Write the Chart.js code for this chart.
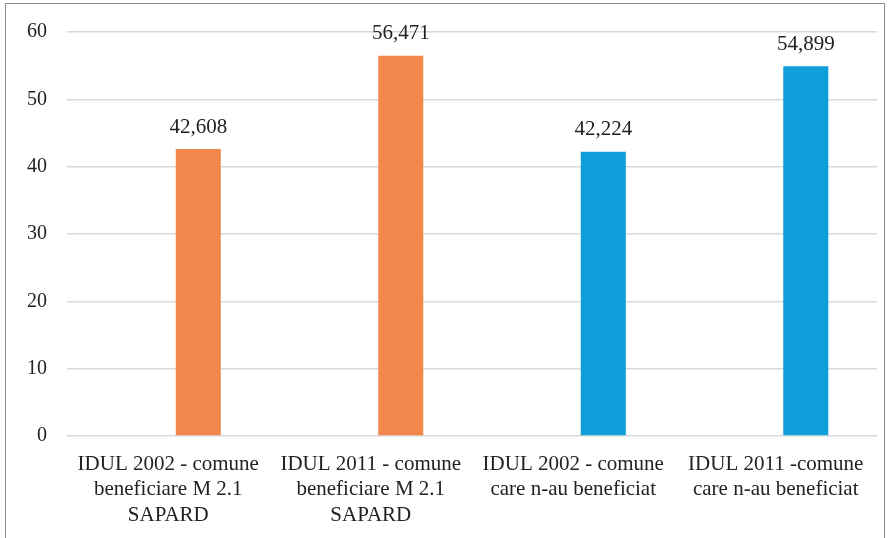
<!DOCTYPE html>
<html>
<head>
<meta charset="utf-8">
<script src="https://cdn.jsdelivr.net/npm/chart.js@4/dist/chart.umd.min.js"></script>
<style>
  html, body { margin: 0; padding: 0; background: #fff; }
  #wrap { width: 889px; height: 538px; position: relative; }
</style>
</head>
<body>
<div id="wrap"><canvas id="chart"></canvas></div>
<script>
const categories = [
  ["IDUL 2002 - comune", "beneficiare M 2.1", "SAPARD"],
  ["IDUL 2011 - comune", "beneficiare M 2.1", "SAPARD"],
  ["IDUL 2002 - comune", "care n-au beneficiat"],
  ["IDUL 2011 -comune", "care n-au beneficiat"]
];
const idulValues = [42.608, 56.471, 42.224, 54.899];
const barColors = ["#F4874B", "#F4874B", "#0E9EDA", "#0E9EDA"];
const emptySlot = [null, null, null, null];
const yTicks = [0, 10, 20, 30, 40, 50, 60];

const font = "'Times New Roman', 'Liberation Serif', 'DejaVu Serif', serif";
Chart.defaults.font.family = font;

// Draw the outer frame like the original figure
const framePlugin = {
  id: "frame",
  beforeDraw(chart) {
    const ctx = chart.ctx;
    ctx.save();
    ctx.fillStyle = "#fff";
    ctx.fillRect(0, 0, chart.width, chart.height);
    ctx.strokeStyle = "#8c8c8c";
    ctx.lineWidth = 1;
    ctx.strokeRect(5.5, 3.5, 879, 560);
    ctx.restore();
  }
};

// Values above the bars, comma as decimal separator
const valueLabels = {
  id: "valueLabels",
  afterDatasetsDraw(chart) {
    const ctx = chart.ctx;
    ctx.save();
    ctx.font = "21px " + font;
    ctx.fillStyle = "#222";
    ctx.textAlign = "center";
    ctx.textBaseline = "middle";
    chart.data.datasets.forEach((ds, i) => {
      chart.getDatasetMeta(i).data.forEach((bar, j) => {
        const v = ds.data[j];
        if (v == null) return;
        ctx.fillText(v.toFixed(3).replace(".", ","), bar.x, bar.y - 22);
      });
    });
    ctx.restore();
  }
};

function draw() {
  new Chart(document.getElementById("chart"), {
    type: "bar",
    data: {
      labels: categories,
      datasets: [
        {
          label: "gol",
          data: emptySlot,
          categoryPercentage: 0.593,
          barPercentage: 0.75
        },
        {
          label: "IDUL",
          data: idulValues,
          backgroundColor: barColors,
          categoryPercentage: 0.593,
          barPercentage: 0.75
        }
      ]
    },
    options: {
      responsive: true,
      maintainAspectRatio: false,
      animation: false,
      layout: { padding: { top: 22, right: 12, bottom: 0, left: 0 } },
      plugins: {
        legend: { display: false },
        tooltip: { enabled: false }
      },
      scales: {
        x: {
          grid: { display: false },
          border: { display: false },
          ticks: {
            color: "#222",
            font: { family: font, size: 21, lineHeight: 1.2 },
            padding: 8,
            maxRotation: 0,
            autoSkip: false
          },
          afterFit(scale) { scale.height = 102; }
        },
        y: {
          min: 0,
          max: 60,
          afterBuildTicks(scale) { scale.ticks = yTicks.map(v => ({ value: v })); },
          grid: { color: "#d9d9d9", lineWidth: 1.5, drawTicks: false },
          border: { display: false },
          ticks: {
            color: "#222",
            font: { family: font, size: 20 },
            padding: 20
          },
          afterFit(scale) { scale.width = 67; }
        }
      }
    },
    plugins: [framePlugin, valueLabels]
  });
}

document.fonts.load("20px 'Liberation Serif'").then(draw, draw);
</script>
</body>
</html>
